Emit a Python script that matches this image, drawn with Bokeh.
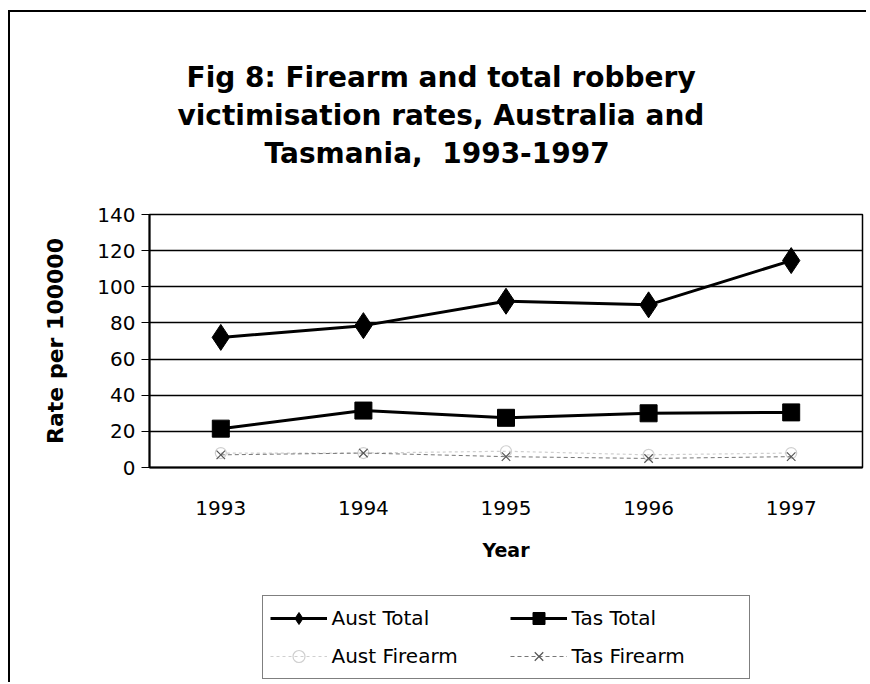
from bokeh.plotting import figure
from bokeh.models import (ColumnDataSource, Legend, LegendItem, Title, FactorRange, Range1d)
from bokeh.layouts import column
from bokeh.embed import file_html
from bokeh.resources import INLINE

years = ["1993", "1994", "1995", "1996", "1997"]
aust_total = [72, 78.5, 92, 90, 114.5]
tas_total = [21.5, 31.5, 27.5, 30, 30.5]
aust_firearm = [8, 8, 9, 7, 8]
tas_firearm = [7, 8, 6, 5, 6]
y_ticks = [0, 20, 40, 60, 80, 100, 120, 140]
title_lines = ["Fig 8: Firearm and total robbery",
               "victimisation rates, Australia and",
               "Tasmania,\u00a0\u00a01993-1997"]
series_names = ["Aust Total", "Tas Total", "Aust Firearm", "Tas Firearm"]

src = ColumnDataSource(dict(year=years, at=aust_total, tt=tas_total,
                            af=aust_firearm, tf=tas_firearm))
cols = ["at", "tt", "af", "tf"]

FONT = "DejaVu Sans"

LINE_STYLES = [
    dict(line_color="black", line_width=3),
    dict(line_color="black", line_width=3),
    dict(line_color="#cfcfcf", line_width=1.2, line_dash="3 3"),
    dict(line_color="#777777", line_width=1, line_dash="4 3"),
]
MARKER_STYLES = [
    dict(marker="diamond", size=26, color="black"),
    dict(marker="square", size=17, color="black"),
    dict(marker="circle", size=11, fill_color=None, line_color="#cfcfcf", line_width=1.2),
    dict(marker="x", size=12, line_color="#555555", line_width=1.2),
]

def bare(fig):
    fig.outline_line_color = None
    fig.xgrid.grid_line_color = None
    fig.ygrid.grid_line_color = None
    fig.background_fill_color = "white"
    fig.border_fill_color = "white"

# ---- title strip: lines centred on the whole chart width (left-aligned + shift) ----
p0 = figure(width=856, height=190, output_backend="svg", toolbar_location=None,
            x_axis_type=None, y_axis_type=None, title=None,
            min_border_left=0, min_border_right=0, min_border_top=159, min_border_bottom=0)
bare(p0)
title_shift = [37, 28, 115]
for line, off in reversed(list(zip(title_lines, title_shift))):
    p0.add_layout(Title(text=line, align="left", offset=off, text_font=FONT,
                        text_font_size="28px", text_font_style="bold",
                        text_color="black", standoff=3), "above")

# ---- main chart ----
p = figure(width=856, height=390, x_range=FactorRange(*years), y_range=Range1d(0, 140),
           output_backend="svg", toolbar_location=None, title=None,
           min_border_left=139, min_border_right=4, min_border_top=12,
           min_border_bottom=125)
p.outline_line_color = "black"
p.outline_line_width = 1.5
p.background_fill_color = "white"
p.border_fill_color = "white"
p.xgrid.grid_line_color = None
p.ygrid.grid_line_color = "black"
p.ygrid.grid_line_width = 1.5
p.yaxis.ticker = y_ticks

for ax in (p.xaxis[0], p.yaxis[0]):
    ax.axis_line_color = "black"
    ax.axis_line_width = 2
    ax.major_label_text_font = FONT
    ax.major_label_text_font_size = "20px"
    ax.major_label_text_color = "black"
    ax.axis_label_text_font = FONT
    ax.axis_label_text_font_style = "bold"
    ax.axis_label_text_color = "black"
    ax.minor_tick_line_color = None

p.yaxis.major_tick_out = 8
p.yaxis.major_tick_in = 0
p.yaxis.major_tick_line_color = "black"
p.yaxis.major_label_standoff = 6
p.yaxis.axis_label = "Rate per 100000"
p.yaxis.axis_label_text_font_size = "22px"
p.yaxis.axis_label_standoff = 26

p.xaxis.major_tick_line_color = None
p.xaxis.major_label_standoff = 27
p.xaxis.axis_label = "Year"
p.xaxis.axis_label_text_font_size = "19px"
p.xaxis.axis_label_standoff = 21

for c, ls, ms in zip(cols, LINE_STYLES, MARKER_STYLES):
    p.line("year", c, source=src, **ls)
    p.scatter("year", c, source=src, **ms)

# ---- legend strip below the chart (its own renderers sit outside its view) ----
p2 = figure(width=856, height=90, output_backend="svg", toolbar_location=None,
            x_axis_type=None, y_axis_type=None, title=None,
            x_range=FactorRange(*years), y_range=Range1d(-1000, -999),
            min_border_left=119, min_border_right=0, min_border_top=0, min_border_bottom=0)
bare(p2)
items = []
for name, c, ls, ms in zip(series_names, cols, LINE_STYLES, MARKER_STYLES):
    rl = p2.line("year", c, source=src, **ls)
    rm = p2.scatter("year", c, source=src, **ms)
    items.append(LegendItem(label=name, renderers=[rl, rm]))

# vertical orientation with 2 columns (column-major) -> rows read
# Aust Total | Tas Total  /  Aust Firearm | Tas Firearm
legend = Legend(items=[items[0], items[2], items[1], items[3]],
                orientation="vertical", ncols=2, location="center")
legend.label_text_font = FONT
legend.label_text_font_size = "20px"
legend.label_text_color = "black"
legend.glyph_width = 57
legend.glyph_height = 30
legend.label_standoff = 5
legend.label_width = 170
legend.spacing = 8
legend.padding = 7
legend.margin = 0
legend.border_line_color = "black"
legend.border_line_width = 1.5
legend.background_fill_alpha = 1
p2.add_layout(legend, "center")

layout = column(p0, p, p2, spacing=0)
layout.styles = {"margin-left": "8px", "margin-top": "10px",
                 "border-left": "2px solid black", "border-top": "2px solid black"}

open("out.html", "w").write(file_html(layout, INLINE))
